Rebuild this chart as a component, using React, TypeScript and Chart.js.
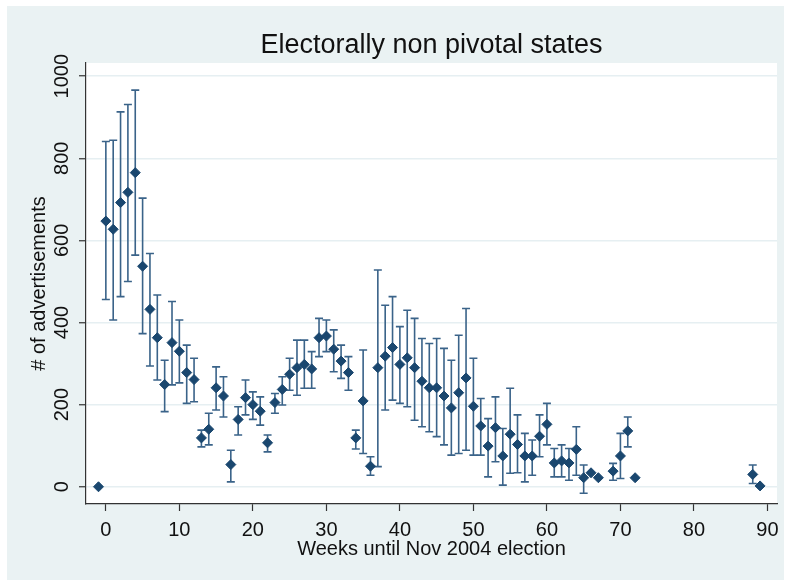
import React, { useEffect, useRef } from "react";
import { Chart, registerables } from "chart.js";

Chart.register(...registerables);

// Weekly advertising counts with confidence bounds (null = no interval shown)
const weeks = [
  -1, 0, 1, 2, 3, 4, 5, 6, 7, 8, 9, 10, 11, 12, 13, 14, 15, 16, 17, 18, 19, 20,
  21, 22, 23, 24, 25, 26, 27, 28, 29, 30, 31, 32, 33, 34, 35, 36, 37, 38, 39, 40,
  41, 42, 43, 44, 45, 46, 47, 48, 49, 50, 51, 52, 53, 54, 55, 56, 57, 58, 59, 60,
  61, 62, 63, 64, 65, 66, 67, 69, 70, 71, 72, 88, 89,
];
const adMeans = [
  0, 647, 627, 692, 717, 765, 537, 432, 363, 249, 351, 330, 278, 261, 119, 140, 241, 221, 54, 164, 217, 200,
  184, 107, 205, 237, 274, 290, 298, 287, 363, 367, 335, 306, 278, 119, 209, 50, 290, 318, 339, 298,
  314, 290, 257, 241, 241, 221, 192, 229, 265, 196, 148, 99, 144, 75, 128, 103, 75, 75, 123, 152,
  58, 63, 58, 91, 22, 34, 22, 38, 75, 136, 22, 30, 2,
];
const ciLow = [
  null, 456, 406, 463, 500, 564, 373, 294, 260, 183, 248, 253, 203, 207, 97, 102, 187, 170, 12, 126, 175, 164,
  150, 85, 179, 199, 235, 223, 240, 240, 317, 329, 280, 264, 235, 92, 81, 28, 49, 187, 211, 203,
  195, 162, 146, 134, 122, 102, 77, 81, 89, 77, 77, 24, 61, 4, 33, 34, 12, 28, 73, 102,
  24, 24, 16, 28, -16, null, null, 16, 20, 97, null, 8, null,
];
const ciHigh = [
  null, 841, 844, 913, 931, 966, 703, 568, 467, 308, 451, 406, 345, 313, 138, 179, 292, 268, 89, 195, 260, 231,
  219, 126, 227, 268, 313, 357, 357, 329, 410, 406, 382, 345, 317, 138, 333, 73, 528, 442, 463, 390,
  430, 410, 361, 349, 361, 337, 308, 369, 434, 313, 215, 166, 219, 142, 240, 175, 130, 114, 175, 203,
  93, 102, 93, 146, 53, null, null, 57, 130, 170, null, 53, null,
];

const xTicks = [0, 10, 20, 30, 40, 50, 60, 70, 80, 90];
const yTicks = [0, 200, 400, 600, 800, 1000];

const chartTitle = "Electorally non pivotal states";
const xTitle = "Weeks until Nov 2004 election";
const yTitle = "# of advertisements";

const FONT = '"Liberation Sans", Arial, sans-serif';
const OUTER_BG = "#EAF2F3";
const NAVY = "#1A476F";
const BAR = "#3A6389";
const INK = "#111111";

// Light outer panel and white plot region
const framePlugin = {
  id: "frame",
  beforeDraw(chart: any) {
    const { ctx, width, height, chartArea } = chart;
    ctx.save();
    ctx.fillStyle = "#ffffff";
    ctx.fillRect(0, 0, width, height);
    ctx.fillStyle = OUTER_BG;
    ctx.fillRect(7, 6, 777, height - 6);
    ctx.fillStyle = "#ffffff";
    ctx.fillRect(
      chartArea.left,
      chartArea.top,
      chartArea.right - chartArea.left,
      chartArea.bottom - chartArea.top
    );
    ctx.restore();
  },
};

// Capped vertical intervals behind the markers
const intervalPlugin = {
  id: "intervals",
  beforeDatasetsDraw(chart: any) {
    const { ctx } = chart;
    const xs = chart.scales.x;
    const ys = chart.scales.y;
    ctx.save();
    ctx.strokeStyle = BAR;
    ctx.lineWidth = 1.6;
    const cap = 4;
    weeks.forEach((w, i) => {
      const lo = ciLow[i];
      const hi = ciHigh[i];
      if (lo === null || hi === null) return;
      const px = xs.getPixelForValue(w);
      const top = ys.getPixelForValue(hi);
      const bot = ys.getPixelForValue(lo);
      ctx.beginPath();
      ctx.moveTo(px, top);
      ctx.lineTo(px, bot);
      ctx.moveTo(px - cap, top);
      ctx.lineTo(px + cap, top);
      ctx.moveTo(px - cap, bot);
      ctx.lineTo(px + cap, bot);
      ctx.stroke();
    });
    ctx.restore();
  },
};

// Titles and tick labels
const textPlugin = {
  id: "texts",
  afterDraw(chart: any) {
    const { ctx, chartArea } = chart;
    const xs = chart.scales.x;
    const ys = chart.scales.y;
    const midX = (chartArea.left + chartArea.right) / 2;
    const midY = (chartArea.top + chartArea.bottom) / 2;
    ctx.save();
    ctx.fillStyle = INK;
    ctx.textAlign = "center";
    ctx.textBaseline = "alphabetic";

    ctx.font = `27px ${FONT}`;
    ctx.fillText(chartTitle, midX, 53);

    ctx.font = `20px ${FONT}`;
    xTicks.forEach((v) => {
      ctx.fillText(String(v), xs.getPixelForValue(v), 536);
    });
    ctx.fillText(xTitle, midX, 555);

    yTicks.forEach((v) => {
      ctx.save();
      ctx.translate(68, ys.getPixelForValue(v));
      ctx.rotate(-Math.PI / 2);
      ctx.fillText(String(v), 0, 0);
      ctx.restore();
    });

    ctx.save();
    ctx.translate(45, midY);
    ctx.rotate(-Math.PI / 2);
    ctx.fillText(yTitle, 0, 0);
    ctx.restore();

    ctx.restore();
  },
};

export default function App() {
  const canvasRef = useRef<HTMLCanvasElement | null>(null);

  useEffect(() => {
    const canvas = canvasRef.current;
    if (!canvas) return;
    const chart = new Chart(canvas, {
      type: "scatter",
      data: {
        datasets: [
          {
            data: weeks.map((w, i) => ({ x: w, y: adMeans[i] })),
            pointStyle: "rectRot",
            pointRadius: 5,
            borderWidth: 1,
            backgroundColor: NAVY,
            borderColor: NAVY,
            showLine: false,
          },
        ],
      },
      options: {
        responsive: false,
        animation: false,
        devicePixelRatio: 1,
        layout: { padding: { top: 63, right: 8, left: 0, bottom: 0 } },
        plugins: {
          legend: { display: false },
          tooltip: { enabled: false },
          title: { display: false },
        },
        scales: {
          x: {
            type: "linear",
            min: -2.7,
            max: 91.3,
            afterBuildTicks: (s: any) => {
              s.ticks = xTicks.map((v) => ({ value: v }));
            },
            afterFit: (s: any) => {
              s.height = 76;
            },
            ticks: { display: false, autoSkip: false },
            grid: {
              drawOnChartArea: false,
              drawTicks: true,
              tickLength: 7,
              tickColor: "#333333",
              tickWidth: 1.2,
            },
            border: { display: true, color: "#333333", width: 1.2 },
          },
          y: {
            type: "linear",
            min: -42,
            max: 1032,
            afterBuildTicks: (s: any) => {
              s.ticks = yTicks.map((v) => ({ value: v }));
            },
            afterFit: (s: any) => {
              s.width = 86;
            },
            ticks: { display: false, autoSkip: false },
            grid: {
              color: "#E6EFF2",
              lineWidth: 1.5,
              drawTicks: true,
              tickLength: 7,
              tickColor: "#333333",
              tickWidth: 1.2,
            },
            border: { display: true, color: "#333333", width: 1.2 },
          },
        },
      },
      plugins: [framePlugin, intervalPlugin, textPlugin],
    });
    return () => chart.destroy();
  }, []);

  return (
    <div style={{ position: "absolute", left: 0, top: 0, width: 785, height: 580 }}>
      <canvas ref={canvasRef} width={785} height={580} style={{ display: "block" }} />
    </div>
  );
}
